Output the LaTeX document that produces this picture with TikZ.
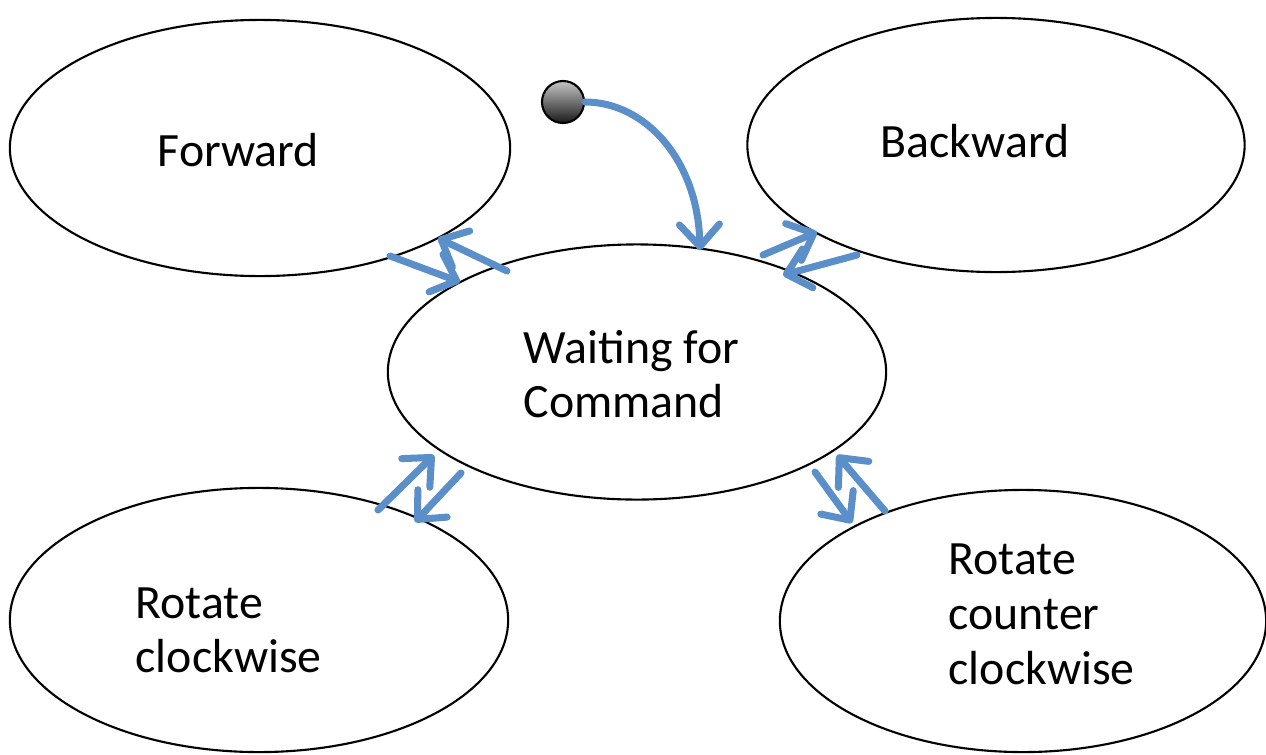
\documentclass[tikz,border=0pt]{standalone}
\usepackage{fontspec}
\setmainfont{Carlito}
\usetikzlibrary{shapes.geometric,arrows.meta}
\definecolor{arrowblue}{RGB}{91,143,201}
\begin{document}
\begin{tikzpicture}[x=0.01cm,y=-0.01cm,
  state/.style={draw=black,line width=0.6pt,ellipse,inner sep=0pt},
  lbl/.style={anchor=base west,inner sep=0pt,font=\fontsize{13.6}{16}\selectfont},
  trans/.style={draw=arrowblue,line width=2pt,line cap=round,-{Straight Barb[length=2.2mm,width=4mm,line width=2pt,round]}}]
\useasboundingbox (0,0) rectangle (1266,754);
% states
\node[state,minimum width=5cm,minimum height=2.56cm] (F) at (260,148) {};
\node[state,minimum width=4.97cm,minimum height=2.54cm] (B) at (996,145) {};
\node[state,minimum width=4.98cm,minimum height=2.55cm] (W) at (637,372) {};
\node[state,minimum width=4.98cm,minimum height=2.64cm] (RC) at (259,620) {};
\node[state,minimum width=4.86cm,minimum height=2.62cm] (RCC) at (1023,621) {};
% labels
\node[lbl] (tF) at (157,166) {Forward};
\node[lbl] (tB) at (880,157) {Backward};
\node[lbl] (tW1) at (523,363) {Waiting for};
\node[lbl] (tW2) at (523,417) {Command};
\node[lbl] (tRC1) at (135,618) {Rotate};
\node[lbl] (tRC2) at (135,672) {clockwise};
\node[lbl] (tRCC1) at (948,574) {Rotate};
\node[lbl] (tRCC2) at (948,629) {counter};
\node[lbl] (tRCC3) at (948,684) {clockwise};
% initial dot
\node[circle,draw=black,line width=0.6pt,minimum size=0.42cm,inner sep=0pt,
  top color=gray!45,bottom color=black!90] (init) at (563,102) {};
% connector end points
\coordinate (f1s) at (390,256); \coordinate (f1e) at (460,282);
\coordinate (f2s) at (507,271); \coordinate (f2e) at (438,238);
\coordinate (b1s) at (763,255); \coordinate (b1e) at (817,232);
\coordinate (b2s) at (857,255); \coordinate (b2e) at (783,275);
\coordinate (r1s) at (378,510); \coordinate (r1e) at (434,455);
\coordinate (r2s) at (461,473); \coordinate (r2e) at (415,522);
\coordinate (c1s) at (815,472); \coordinate (c1e) at (852,523);
\coordinate (c2s) at (885,511); \coordinate (c2e) at (837,455);
\coordinate (ie) at (700,250);
% transitions
\draw[trans] (f1s) -- (f1e);
\draw[trans] (f2s) -- (f2e);
\draw[trans] (b1s) -- (b1e);
\draw[trans] (b2s) -- (b2e);
\draw[trans] (r1s) -- (r1e);
\draw[trans] (r2s) -- (r2e);
\draw[trans] (c1s) -- (c1e);
\draw[trans] (c2s) -- (c2e);
\draw[trans] (init.east) .. controls (645,102) and (698,160) .. (ie);
\end{tikzpicture}
\end{document}
